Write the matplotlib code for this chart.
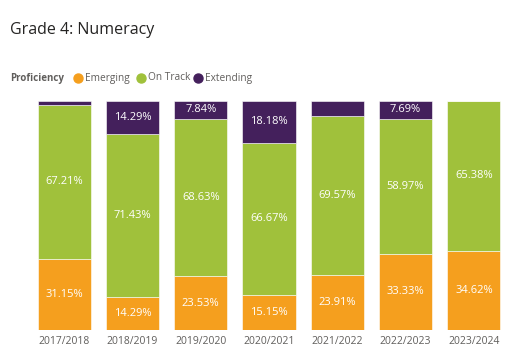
import numpy as np
import matplotlib.pyplot as plt
from matplotlib.lines import Line2D

years = ["2017/2018", "2018/2019", "2019/2020", "2020/2021", "2021/2022", "2022/2023", "2023/2024"]
emerging = [31.15, 14.29, 23.53, 15.15, 23.91, 33.33, 34.62]
on_track = [67.21, 71.43, 68.63, 66.67, 69.57, 58.97, 65.38]
extending = [1.64, 14.29, 7.84, 18.18, 6.52, 7.69, 0.0]

series = [("Emerging", emerging, "#F59F1E"),
          ("On Track", on_track, "#A0C13B"),
          ("Extending", extending, "#44205C")]

plt.rcParams['font.family'] = ['Open Sans', 'DejaVu Sans']

fig = plt.figure(figsize=(5.2, 3.55), dpi=100)
ax = fig.add_axes([30 / 520, 25 / 355, 478 / 520, 229 / 355])

x = np.arange(len(years))
bottom = np.zeros(len(years))
for name, vals, col in series:
    vals = np.array(vals)
    ax.bar(x, vals, 0.78, bottom=bottom, color=col, edgecolor="white", linewidth=0.4)
    for i, v in enumerate(vals):
        if v > 7:
            ax.text(x[i], bottom[i] + v / 2, f"{v:.2f}%", ha="center", va="center",
                    color="white", fontsize=8)
    bottom += vals

ax.set_xlim(-0.5, len(years) - 0.5)
ax.set_ylim(0, 100)
ax.set_xticks(x)
ax.set_xticklabels(years, fontsize=7.5, color="#605E5C")
ax.tick_params(axis="x", length=0, pad=4)
ax.set_yticks([])
for s in ax.spines.values():
    s.set_visible(False)

fig.text(10 / 520, 1 - 30 / 355, "Grade 4: Numeracy", fontsize=11.5, color="#252423", va="center")

# legend
ly = 1 - 78 / 355
fig.text(10 / 520, ly, "Proficiency", fontsize=7, fontweight="bold", color="#605E5C", va="center")
lx = [78, 141, 198]
for (name, vals, col), px in zip(series, lx):
    fig.add_artist(Line2D([px / 520], [ly], marker="o", markersize=6.5, color=col,
                          linestyle="none", transform=fig.transFigure))
    fig.text((px + 7) / 520, ly, name, fontsize=7.3, color="#605E5C", va="center")

fig.savefig("out.png", dpi=100)
